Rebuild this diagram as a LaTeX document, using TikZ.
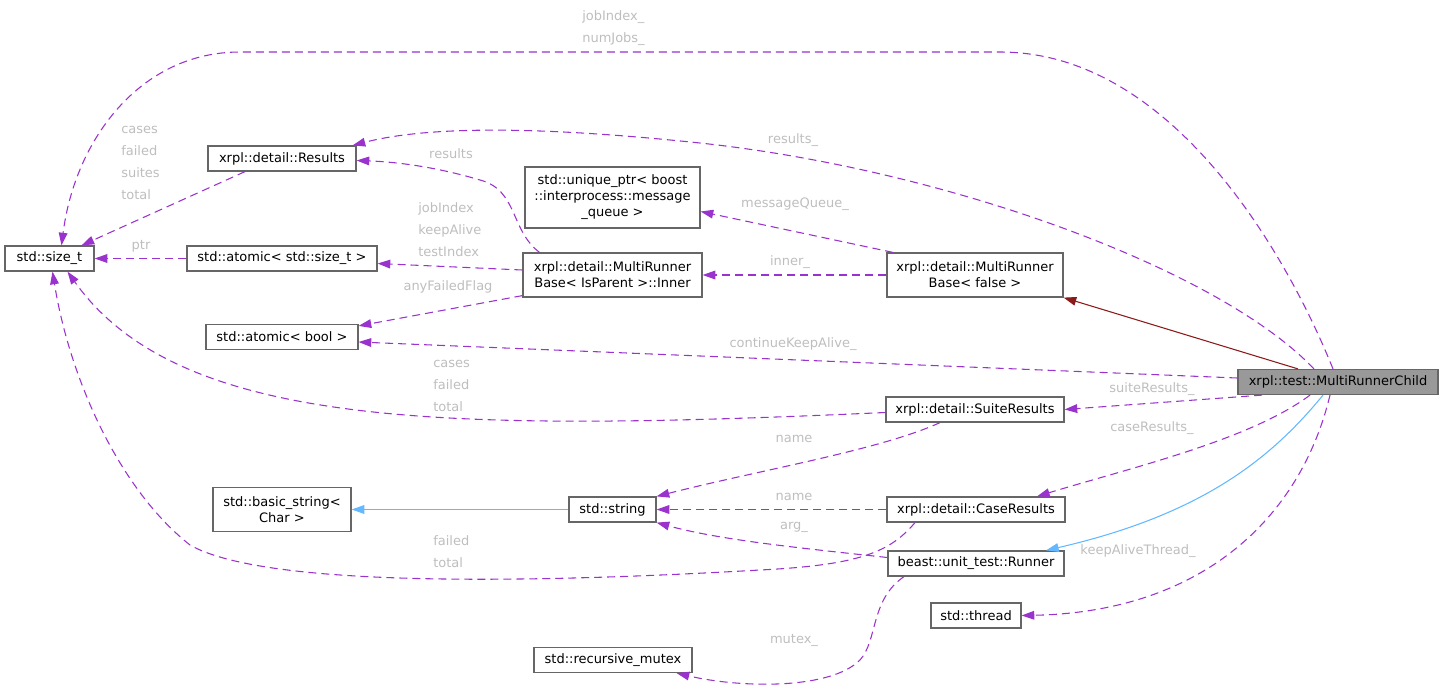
\documentclass[tikz,border=0pt]{standalone}
\usepackage{fontspec}
\setmainfont{DejaVu Sans}
\usetikzlibrary{arrows.meta, calc}
\definecolor{boxline}{HTML}{666666}
\definecolor{mainfill}{HTML}{999999}
\definecolor{orchid}{HTML}{9A32CD}
\definecolor{firebrick}{HTML}{8B1A1A}
\definecolor{skyblue}{HTML}{63B8FF}
\definecolor{lblgray}{HTML}{BEBEBE}
\newcommand{\clsfont}{\fontsize{9.75}{12}\selectfont}
\newcommand{\lblfont}{\fontsize{9.75}{16.5}\selectfont}
\tikzset{
  cls/.style={rectangle, draw=boxline, fill=white, line width=0.9pt,
              align=center, inner sep=2pt, minimum height=18.75pt,
              font=\clsfont},
  mainCls/.style={cls, fill=mainfill},
  member/.style={-{Triangle[length=9.5pt,width=6.5pt]}, draw=orchid,
                 line width=0.8pt, dash pattern=on 6pt off 3.75pt},
  pubBase/.style={-{Triangle[length=9.5pt,width=6.5pt]}, draw=skyblue,
                  line width=0.8pt},
  tplBase/.style={-{Triangle[length=9.5pt,width=6.5pt]}, draw=firebrick,
                  line width=0.8pt},
  lbl/.style={text=lblgray, font=\lblfont, inner sep=0pt},
  lbls/.style={lbl, align=left, anchor=west},
}
\begin{document}
\begin{tikzpicture}[x=0.75pt, y=-0.75pt]
  \useasboundingbox (0,0) rectangle (1443,690);
  % classes
  \node[cls, minimum width=66.75pt]  (sizet)   at (49.5,258.5) {std::size\_t};
  \node[cls, minimum width=111pt]    (results) at (282,158.5)  {xrpl::detail::Results};
  \node[cls, minimum width=142.5pt]  (asizet)  at (282,258.5)  {std::atomic< std::size\_t >};
  \node[cls, minimum width=114pt]    (abool)   at (282,337)    {std::atomic< bool >};
  \node[cls, minimum width=131.25pt, minimum height=45.75pt] (uptr) at (612.5,197.5)
        {std::unique\_ptr< boost\\::interprocess::message\\\_queue >};
  \node[cls, minimum width=134.25pt, minimum height=33pt] (inner) at (612.5,275)
        {xrpl::detail::MultiRunner\\Base< IsParent >::Inner};
  \node[cls, minimum width=132pt, minimum height=33pt] (base) at (975,275)
        {xrpl::detail::MultiRunner\\Base< false >};
  \node[mainCls, minimum width=150pt] (child)  at (1338,382)   {xrpl::test::MultiRunnerChild};
  \node[cls, minimum width=133.5pt]  (suite)   at (975,409.5)  {xrpl::detail::SuiteResults};
  \node[cls, minimum width=103.5pt, minimum height=33pt] (bstring) at (282,509.5)
        {std::basic\_string<\\Char >};
  \node[cls, minimum width=65.25pt]  (str)     at (612.5,509.5) {std::string};
  \node[cls, minimum width=133.5pt]  (caseres) at (976,509.5)  {xrpl::detail::CaseResults};
  \node[cls, minimum width=132pt]    (runner)  at (976,563.5)  {beast::unit\_test::Runner};
  \node[cls, minimum width=67.5pt]   (thread)  at (976,615.5)  {std::thread};
  \node[cls, minimum width=118.5pt]  (rmutex)  at (613,660)    {std::recursive\_mutex};

  % inheritance
  \draw[tplBase] ($(child.north)+(-40,0)$) -- (base.south east);
  \draw[pubBase] ($(child.south)+(-15,0)$) .. controls (1270,460) and (1200,515) .. ($(runner.north)+(70,0)$);
  \draw[pubBase] (str.west) -- (bstring.east);

  % members
  \draw[member] ($(child.north)+(-5,0)$) .. controls (1285,250) and (1170,52) .. (1000,52)
                -- (240,52) .. controls (140,52) and (75,140) .. ($(sizet.north)+(12,0)$);
  \draw[member] ($(child.north)+(-24,0)$) .. controls (1220,270) and (950,170) .. (700,143)
                .. controls (520,124) and (420,128) .. ($(results.north east)+(-4,0)$);
  \draw[member] ($(results.south)+(-37,0)$) -- ($(sizet.north)+(32,0)$);
  \draw[member] (asizet.west) -- (sizet.east);
  \draw[member] ($(inner.north)+(-73,0)$) .. controls (510,230) and (518,190) .. (480,180)
                .. controls (440,168) and (400,162) .. ($(results.east)+(0,2)$);
  \draw[member] ($(inner.west)+(0,-5)$) -- ($(asizet.east)+(0,5)$);
  \draw[member] ($(inner.south west)+(0,-2)$) -- ($(abool.north east)+(0,2)$);
  \draw[member] ($(base.north)+(-82,0)$) -- ($(uptr.east)+(0,14)$);
  \draw[member] (base.west) -- (inner.east);
  \draw[member] ($(child.west)+(0,-4)$) -- ($(abool.east)+(0,5)$);
  \draw[member] ($(child.south)+(-76,0)$) -- (suite.east);
  \draw[member] ($(suite.west)+(0,3)$) .. controls (450,432) and (180,430) .. ($(sizet.south)+(18,0)$);
  \draw[member] ($(child.south)+(-28,0)$) .. controls (1250,440) and (1130,468) .. ($(caseres.north)+(61,0)$);
  \draw[member] ($(child.south)+(-8,0)$) .. controls (1300,520) and (1200,612) .. (thread.east);
  \draw[member] ($(suite.south)+(-35,0)$) .. controls (880,450) and (760,470) .. (str.north east);
  \draw[member] (caseres.west) -- (str.east);
  \draw[member] ($(runner.west)+(0,-6)$) .. controls (800,548) and (720,540) .. (str.south east);
  \draw[member] ($(caseres.south)+(-61,0)$) .. controls (890,552) and (860,565) .. (760,570)
                .. controls (500,585) and (260,585) .. (190,545)
                .. controls (120,490) and (70,380) .. ($(sizet.south)+(3,0)$);
  \draw[member] ($(runner.south)+(-72,0)$) .. controls (870,600) and (878,640) .. (860,660)
                .. controls (830,690) and (740,688) .. ($(rmutex.south east)+(-16,0)$);

  % edge labels
  \node[lbls] (lJobs)    at (582,28.5)  {jobIndex\_\\numJobs\_};
  \node[lbls] (lResF)    at (121,162.5) {cases\\failed\\suites\\total};
  \node[lbls] (lIdx)     at (418,230)   {jobIndex\\keepAlive\\testIndex};
  \node[lbls] (lSuiteF)  at (433,385.5) {cases\\failed\\total};
  \node[lbls] (lCaseF)   at (433,552)   {failed\\total};
  \node[lbl]  (lPtr)     at (141,246)   {ptr};
  \node[lbl]  (lRes)     at (451,154)   {results};
  \node[lbl]  (lFlag)    at (448,287)   {anyFailedFlag};
  \node[lbl]  (lQueue)   at (795,204)   {messageQueue\_};
  \node[lbl]  (lInner)   at (790,262)   {inner\_};
  \node[lbl]  (lResults) at (793,140)   {results\_};
  \node[lbl]  (lKeep)    at (793,344)   {continueKeepAlive\_};
  \node[lbl]  (lSuite)   at (1152,389)  {suiteResults\_};
  \node[lbl]  (lCase)    at (1152,428)  {caseResults\_};
  \node[lbl]  (lThread)  at (1138,551)  {keepAliveThread\_};
  \node[lbl]  (lName1)   at (794,439)   {name};
  \node[lbl]  (lName2)   at (794,497)   {name};
  \node[lbl]  (lArg)     at (794,527)   {arg\_};
  \node[lbl]  (lMutex)   at (794,640)   {mutex\_};
\end{tikzpicture}
\end{document}
